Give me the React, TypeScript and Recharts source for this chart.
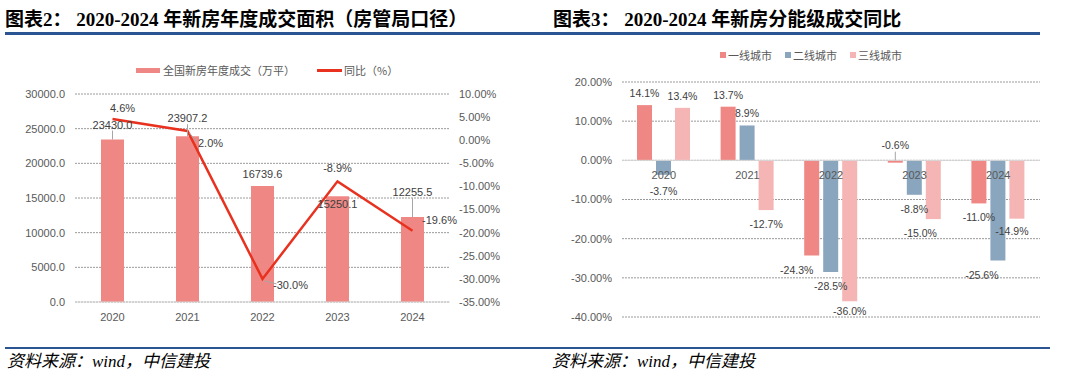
import React from 'react';
import {
  ComposedChart,
  BarChart,
  Bar,
  Line,
  XAxis,
  YAxis,
  CartesianGrid,
  ReferenceLine,
  LabelList,
} from 'recharts';

// ---------------- data ----------------
const YEARS = ['2020', '2021', '2022', '2023', '2024'];
const AREA = [23430.0, 23907.2, 16739.6, 15250.1, 12255.5];
const YOY = [4.6, 2.0, -30.0, -8.9, -19.6];

const TIER1 = [14.1, 13.7, -24.3, -0.6, -11.0];
const TIER2 = [-3.7, 8.9, -28.5, -8.8, -25.6];
const TIER3 = [13.4, -12.7, -36.0, -15.0, -14.9];

const AREA_TICKS = [0, 5000, 10000, 15000, 20000, 25000, 30000];
const YOY_TICKS = [-35, -30, -25, -20, -15, -10, -5, 0, 5, 10];
const TIER_TICKS = [-40, -30, -20, -10, 0, 10, 20];

const TITLE_LEFT = '图表2： 2020-2024 年新房年度成交面积（房管局口径）';
const TITLE_RIGHT = '图表3： 2020-2024 年新房分能级成交同比';
const SOURCE = '资料来源：wind，中信建投';
const AREA_NAME = '全国新房年度成交（万平）';
const YOY_NAME = '同比（%）';
const TIER_NAMES = ['一线城市', '二线城市', '三线城市'];

// label placement tweaks (relative offsets, kept apart from the data)
const AREA_LABEL_OFFSET = [[0, -15], [0, -18], [0, -12], [0, 8], [0, -25]];
const YOY_LABEL_OFFSET = [[10, -11], [23, 12], [28, 6], [0, -13], [27, -11]];
const T1_LABEL_OFFSET = [[0, 0], [0, 0], [-15, 0], [0, -32], [0, 0]];
const T2_LABEL_OFFSET = [[0, 2], [0, 0], [0, 0], [0, 0], [-16, 0]];
const T3_LABEL_OFFSET = [[0, 0], [0, 0], [0, -4], [-13, 0], [-5, -2]];

// ---------------- styles ----------------
const SANS = '"Liberation Sans", Arial, "Noto Sans CJK SC", sans-serif';
const CJK = '"Noto Sans CJK SC", "Liberation Sans", sans-serif';
const TICK_COLOR = '#595959';
const LABEL_COLOR = '#404040';
const GRID_COLOR = '#9a9a9a';
const AXIS_COLOR = '#d9d9d9';
const BAR_COLOR = '#EF8884';
const LINE_COLOR = '#E8321F';
const TIER_COLORS = ['#EF8884', '#8AA6BE', '#F4B5B4'];
const RULE_COLOR = '#2B5592';
const LEADER = '#a6a6a6';

const data1 = YEARS.map((y, i) => ({ year: y, area: AREA[i], yoy: YOY[i] }));
const data2 = YEARS.map((y, i) => ({ year: y, t1: TIER1[i], t2: TIER2[i], t3: TIER3[i] }));

// right chart geometry (for placing the category labels on the zero line)
const R_TOP = 82;
const R_HEIGHT = 340;
const R_BOTTOM_MARGIN = 8;
const R_XAXIS_H = 15;
const R_PLOT_H = R_HEIGHT - R_TOP - R_BOTTOM_MARGIN - R_XAXIS_H;
const R_MIN = TIER_TICKS[0];
const R_MAX = TIER_TICKS[TIER_TICKS.length - 1];
const R_ZERO_Y = R_TOP + (R_PLOT_H * R_MAX) / (R_MAX - R_MIN);

const AreaLabel = (props: any) => {
  const { x, y, width, index, value } = props;
  const cx = x + width / 2;
  const [dx, dy] = AREA_LABEL_OFFSET[index];
  const ly = y + dy;
  const leader = dy < -13;
  return (
    <g>
      {leader && (
        <line x1={cx} y1={ly + 6} x2={cx} y2={y} stroke={LEADER} strokeWidth={1} />
      )}
      <text
        x={cx + dx}
        y={ly}
        textAnchor="middle"
        dominantBaseline="central"
        fontSize={11}
        fontFamily={SANS}
        fill={LABEL_COLOR}
      >
        {Number(value).toFixed(1)}
      </text>
    </g>
  );
};

const YoyLabel = (props: any) => {
  const { x, y, index, value } = props;
  const [dx, dy] = YOY_LABEL_OFFSET[index];
  const leader = dy > 0;
  return (
    <g>
      {leader && (
        <line
          x1={x + 2}
          y1={y + 2}
          x2={x + dx - 14}
          y2={y + dy - 1}
          stroke={LEADER}
          strokeWidth={1}
        />
      )}
      <text
        x={x + dx}
        y={y + dy}
        textAnchor="middle"
        dominantBaseline="central"
        fontSize={11}
        fontFamily={SANS}
        fill={LABEL_COLOR}
      >
        {Number(value).toFixed(1)}%
      </text>
    </g>
  );
};

const makeTierLabel = (offsets: number[][]) => (props: any) => {
  const { x, y, width, height, index, value } = props;
  const top = Math.min(y, y + height);
  const bottom = Math.max(y, y + height);
  const cx = x + width / 2;
  const [dx, dy] = offsets[index];
  const base = value >= 0 ? top - 12 : bottom + 14;
  const ly = base + dy;
  const leader = value < 0 && dy < -20;
  return (
    <g>
      {leader && (
        <line x1={cx} y1={ly + 7} x2={cx} y2={top} stroke={LEADER} strokeWidth={1} />
      )}
      <text
        x={cx + dx}
        y={ly}
        textAnchor="middle"
        dominantBaseline="central"
        fontSize={10.5}
        fontFamily={SANS}
        fill={LABEL_COLOR}
      >
        {Number(value).toFixed(1)}%
      </text>
    </g>
  );
};

const TierTick = (props: any) => {
  const { x, payload } = props;
  return (
    <text
      x={x}
      y={R_ZERO_Y + 15}
      textAnchor="middle"
      dominantBaseline="central"
      fontSize={11}
      fontFamily={SANS}
      fill={TICK_COLOR}
    >
      {payload.value}
    </text>
  );
};

const abs = (l: number, t: number, extra: any = {}) => ({
  position: 'absolute' as const,
  left: l,
  top: t,
  ...extra,
});

export default function App() {
  const tickStyle = { fontSize: 11, fontFamily: SANS, fill: TICK_COLOR };
  return (
    <div
      style={{
        position: 'absolute',
        left: 0,
        top: 0,
        width: 1080,
        height: 379,
        background: '#fff',
        overflow: 'hidden',
      }}
    >
      {/* titles */}
      <div
        style={abs(5, 8, {
          fontSize: 19,
          lineHeight: '24px',
          fontWeight: 'bold',
          fontFamily: '"Liberation Serif", "Noto Sans CJK SC", serif',
          color: '#000',
          whiteSpace: 'pre',
        })}
      >
        {TITLE_LEFT}
      </div>
      <div
        style={abs(553, 8, {
          fontSize: 19,
          lineHeight: '24px',
          fontWeight: 'bold',
          fontFamily: '"Liberation Serif", "Noto Sans CJK SC", serif',
          color: '#000',
          whiteSpace: 'pre',
        })}
      >
        {TITLE_RIGHT}
      </div>
      <div style={abs(5, 32, { width: 535, height: 3, background: RULE_COLOR })} />
      <div style={abs(540, 32, { width: 500, height: 3, background: RULE_COLOR })} />
      <div style={abs(5, 347, { width: 535, height: 2, background: RULE_COLOR })} />
      <div style={abs(540, 347, { width: 510, height: 2, background: RULE_COLOR })} />
      <div
        style={abs(7, 352, {
          fontSize: 17,
          lineHeight: '20px',
          fontStyle: 'italic',
          fontFamily: '"Liberation Serif", "Noto Sans CJK SC", serif',
          color: '#000',
          whiteSpace: 'pre',
        })}
      >
        {SOURCE}
      </div>
      <div
        style={abs(552, 352, {
          fontSize: 17,
          lineHeight: '20px',
          fontStyle: 'italic',
          fontFamily: '"Liberation Serif", "Noto Sans CJK SC", serif',
          color: '#000',
          whiteSpace: 'pre',
        })}
      >
        {SOURCE}
      </div>

      {/* left legend */}
      <div style={abs(136, 68, { width: 24, height: 5, background: BAR_COLOR })} />
      <div
        style={abs(163, 62, {
          fontSize: 11,
          lineHeight: '16px',
          fontFamily: CJK,
          color: TICK_COLOR,
          whiteSpace: 'pre',
        })}
      >
        {AREA_NAME}
      </div>
      <div style={abs(317, 69, { width: 25, height: 2.5, background: LINE_COLOR })} />
      <div
        style={abs(344, 62, {
          fontSize: 11,
          lineHeight: '16px',
          fontFamily: CJK,
          color: TICK_COLOR,
          whiteSpace: 'pre',
        })}
      >
        {YOY_NAME}
      </div>

      {/* right legend */}
      {TIER_NAMES.map((n, i) => {
        const lefts = [720, 785, 850];
        return (
          <React.Fragment key={n}>
            <div style={abs(lefts[i], 52, { width: 6, height: 6, background: TIER_COLORS[i] })} />
            <div
              style={abs(lefts[i] + 8, 47, {
                fontSize: 11,
                lineHeight: '16px',
                fontFamily: CJK,
                color: TICK_COLOR,
                whiteSpace: 'pre',
              })}
            >
              {n}
            </div>
          </React.Fragment>
        );
      })}

      {/* left chart */}
      <div style={abs(0, 0)}>
        <ComposedChart
          width={540}
          height={340}
          data={data1}
          margin={{ top: 94, right: 0, bottom: 8, left: 0 }}
        >
          <CartesianGrid
            yAxisId="area"
            vertical={false}
            stroke={GRID_COLOR}
            strokeDasharray="2 1"
          />
          <XAxis
            dataKey="year"
            height={30}
            tickLine={false}
            axisLine={{ stroke: AXIS_COLOR }}
            tick={tickStyle}
            tickSize={0}
            tickMargin={11}
          />
          <YAxis
            yAxisId="area"
            orientation="left"
            width={75}
            domain={[0, 30000]}
            ticks={AREA_TICKS}
            interval={0}
            tickFormatter={(v: number) => v.toFixed(1)}
            axisLine={false}
            tickLine={false}
            tickSize={0}
            tickMargin={10}
            tick={tickStyle}
          />
          <YAxis
            yAxisId="yoy"
            orientation="right"
            width={90}
            domain={[-35, 10]}
            ticks={YOY_TICKS}
            interval={0}
            tickFormatter={(v: number) => v.toFixed(2) + '%'}
            axisLine={false}
            tickLine={false}
            tickSize={0}
            tickMargin={9}
            tick={tickStyle}
          />
          <Bar
            yAxisId="area"
            dataKey="area"
            fill={BAR_COLOR}
            barSize={23}
            isAnimationActive={false}
          >
            <LabelList dataKey="area" content={AreaLabel} />
          </Bar>
          <Line
            yAxisId="yoy"
            dataKey="yoy"
            stroke={LINE_COLOR}
            strokeWidth={2.5}
            dot={false}
            activeDot={false}
            isAnimationActive={false}
          >
            <LabelList dataKey="yoy" content={YoyLabel} />
          </Line>
        </ComposedChart>
      </div>

      {/* right chart */}
      <div style={abs(540, 0)}>
        <BarChart
          width={540}
          height={R_HEIGHT}
          data={data2}
          margin={{ top: R_TOP, right: 40, bottom: R_BOTTOM_MARGIN, left: 0 }}
          barGap={4}
        >
          <CartesianGrid vertical={false} stroke={GRID_COLOR} strokeDasharray="2 1" />
          <XAxis
            dataKey="year"
            height={R_XAXIS_H}
            axisLine={false}
            tickLine={false}
            tick={TierTick}
          />
          <YAxis
            width={82}
            domain={[R_MIN, R_MAX]}
            ticks={TIER_TICKS}
            interval={0}
            tickFormatter={(v: number) => v.toFixed(2) + '%'}
            axisLine={false}
            tickLine={false}
            tickSize={0}
            tickMargin={10}
            tick={tickStyle}
          />
          <ReferenceLine y={0} stroke={AXIS_COLOR} strokeWidth={1} />
          <Bar dataKey="t1" fill={TIER_COLORS[0]} barSize={15} isAnimationActive={false}>
            <LabelList dataKey="t1" content={makeTierLabel(T1_LABEL_OFFSET)} />
          </Bar>
          <Bar dataKey="t2" fill={TIER_COLORS[1]} barSize={15} isAnimationActive={false}>
            <LabelList dataKey="t2" content={makeTierLabel(T2_LABEL_OFFSET)} />
          </Bar>
          <Bar dataKey="t3" fill={TIER_COLORS[2]} barSize={15} isAnimationActive={false}>
            <LabelList dataKey="t3" content={makeTierLabel(T3_LABEL_OFFSET)} />
          </Bar>
        </BarChart>
      </div>
    </div>
  );
}
